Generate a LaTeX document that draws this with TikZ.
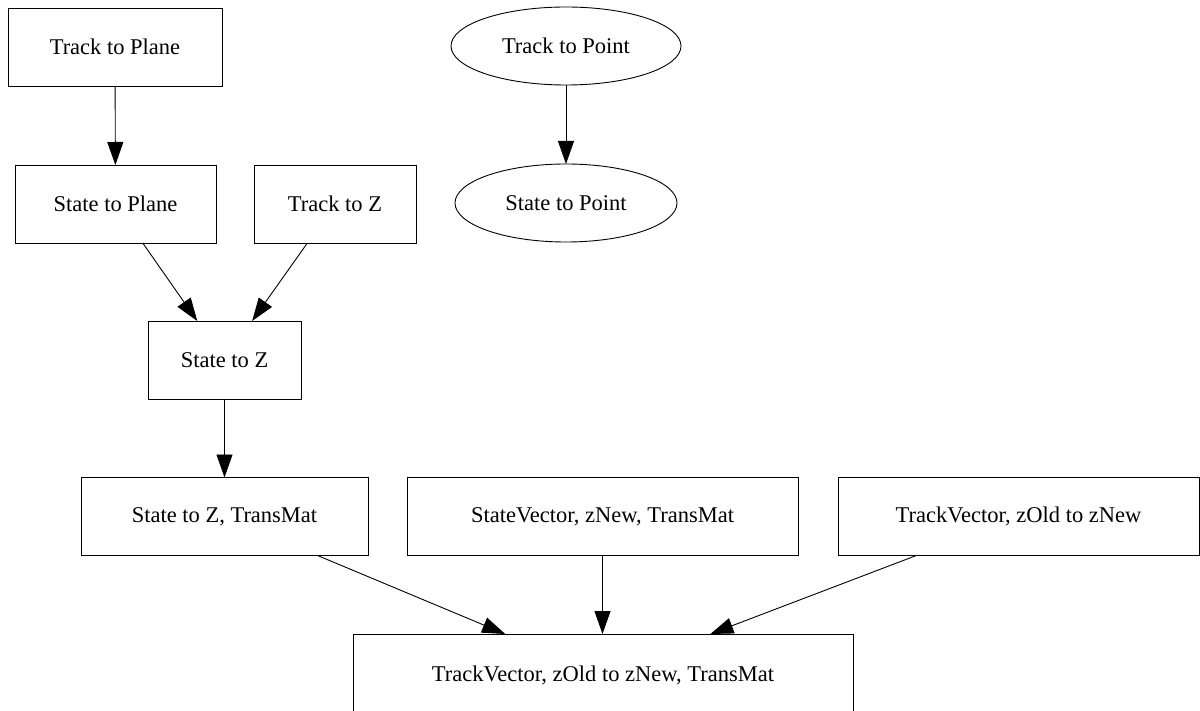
\documentclass[tikz,border=0pt]{standalone}
\usepackage{fontspec}
\setmainfont{Liberation Serif}
\usetikzlibrary{arrows.meta,shapes.geometric}
\begin{document}
\begin{tikzpicture}[x=1pt,y=-1pt,
  every node/.style={font=\fontsize{22.5}{27}\selectfont, inner sep=0pt, outer sep=0pt},
  gbox/.style={draw, line width=0.9pt, rectangle, minimum height=78pt},
  gell/.style={draw, line width=0.9pt, ellipse, minimum height=78pt},
  garr/.style={line width=0.9pt, -{Triangle[length=23pt,width=16pt]}}]
\useasboundingbox (0,0) rectangle (1200,711);
\node[gbox, minimum width=214pt] (tp) at (115,47) {Track to Plane};
\node[gell, minimum width=230pt] (tpt) at (566,46) {Track to Point};
\node[gbox, minimum width=201pt] (sp) at (115.5,204) {State to Plane};
\node[gbox, minimum width=162pt] (tz) at (335,204) {Track to Z};
\node[gell, minimum width=222pt] (spt) at (566,203) {State to Point};
\node[gbox, minimum width=153pt] (sz) at (224.5,360) {State to Z};
\node[gbox, minimum width=287pt] (szt) at (224.5,516.5) {State to Z, TransMat};
\node[gbox, minimum width=391pt] (sv) at (602.5,516.5) {StateVector, zNew, TransMat};
\node[gbox, minimum width=361pt] (tv) at (1018.5,516.5) {TrackVector, zOld to zNew};
\node[gbox, minimum width=500pt, minimum height=82pt] (bot) at (603,675) {TrackVector, zOld to zNew, TransMat};
\draw[garr] (tp) -- (sp);
\draw[garr] (tpt) -- (spt);
\draw[garr] (sp) -- (sz);
\draw[garr] (tz) -- (sz);
\draw[garr] (sz) -- (szt);
\draw[garr] (szt) -- (bot);
\draw[garr] (sv.south) -- (sv.south |- bot.north);
\draw[garr] (tv) -- (bot);
\end{tikzpicture}
\end{document}
